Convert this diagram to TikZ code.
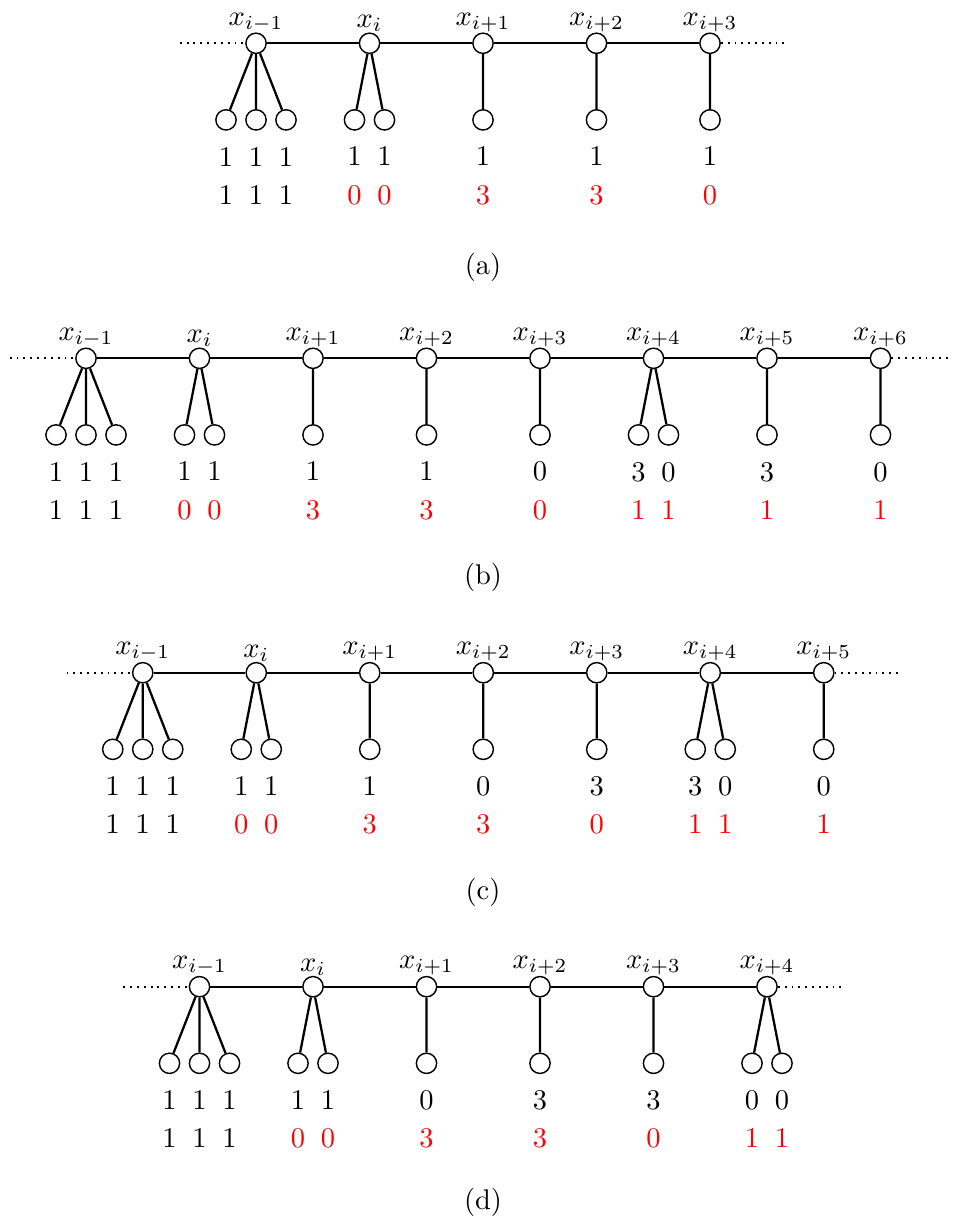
\documentclass[tikz,border=0pt]{standalone}
\usepackage{tikz}
\usetikzlibrary{positioning}
\definecolor{cntRed}{HTML}{FF0000}

\tikzset{
  vtx/.style={circle,draw,line width=0.5pt,fill=white,inner sep=0pt,minimum size=0.25cm,on grid},
  xlbl/.style={inner sep=0pt},
  vals/.style={align=center,inner sep=0pt,on grid,font=\fontsize{10}{13.5}\selectfont},
  subcap/.style={inner sep=0pt},
  spine/.style={thick},
  twig/.style={thick},
  trail/.style={line width=0.65pt,dash pattern=on 0.65pt off 1.75pt}
}

\begin{document}
\begin{tikzpicture}
  \useasboundingbox (0,0) rectangle (11.755,-15.123);

  % (a)
  \node[vtx] (a1) at (3.158,-0.534) {};
  \node[vtx,right=1.4cm of a1] (a2) {};
  \node[vtx,right=1.4cm of a2] (a3) {};
  \node[vtx,right=1.4cm of a3] (a4) {};
  \node[vtx,right=1.4cm of a4] (a5) {};
  \node[xlbl,above=0pt of a1] (a1x) {$x_{i-1}$};
  \node[xlbl,above=0pt of a2] (a2x) {$x_{i}$};
  \node[xlbl,above=0pt of a3] (a3x) {$x_{i+1}$};
  \node[xlbl,above=0pt of a4] (a4x) {$x_{i+2}$};
  \node[xlbl,above=0pt of a5] (a5x) {$x_{i+3}$};
  \coordinate[on grid,left=0.94cm of a1] (a0);
  \coordinate[on grid,right=0.94cm of a5] (a6);
  \draw[spine] (a1) -- (a2) -- (a3) -- (a4) -- (a5);
  \draw[trail] (a0) -- (a1) (a5) -- (a6);
  \node[vtx,below left=0.945cm and 0.37cm of a1] (a1-1) {};
  \node[vtx,below=0.945cm of a1] (a1-2) {};
  \node[vtx,below right=0.945cm and 0.37cm of a1] (a1-3) {};
  \node[vtx,below left=0.945cm and 0.185cm of a2] (a2-1) {};
  \node[vtx,below right=0.945cm and 0.185cm of a2] (a2-2) {};
  \node[vtx,below=0.945cm of a3] (a3-1) {};
  \node[vtx,below=0.945cm of a4] (a4-1) {};
  \node[vtx,below=0.945cm of a5] (a5-1) {};
  \draw[twig] (a1) -- (a1-1) (a1) -- (a1-2) (a1) -- (a1-3)
              (a2) -- (a2-1) (a2) -- (a2-2)
              (a3) -- (a3-1) (a4) -- (a4-1) (a5) -- (a5-1);
  \node[vals,below=0.69cm of a1-1] (a1-1v) {1\\1};
  \node[vals,below=0.69cm of a1-2] (a1-2v) {1\\1};
  \node[vals,below=0.69cm of a1-3] (a1-3v) {1\\1};
  \node[vals,below=0.69cm of a2-1] (a2-1v) {1\\\textcolor{cntRed}{0}};
  \node[vals,below=0.69cm of a2-2] (a2-2v) {1\\\textcolor{cntRed}{0}};
  \node[vals,below=0.69cm of a3-1] (a3-1v) {1\\\textcolor{cntRed}{3}};
  \node[vals,below=0.69cm of a4-1] (a4-1v) {1\\\textcolor{cntRed}{3}};
  \node[vals,below=0.69cm of a5-1] (a5-1v) {1\\\textcolor{cntRed}{0}};
  \node[subcap] (capa) at (5.958,-3.300) {(a)};

  % (b)
  \node[vtx] (b1) at (1.061,-4.420) {};
  \node[vtx,right=1.4cm of b1] (b2) {};
  \node[vtx,right=1.4cm of b2] (b3) {};
  \node[vtx,right=1.4cm of b3] (b4) {};
  \node[vtx,right=1.4cm of b4] (b5) {};
  \node[vtx,right=1.4cm of b5] (b6) {};
  \node[vtx,right=1.4cm of b6] (b7) {};
  \node[vtx,right=1.4cm of b7] (b8) {};
  \node[xlbl,above=0pt of b1] (b1x) {$x_{i-1}$};
  \node[xlbl,above=0pt of b2] (b2x) {$x_{i}$};
  \node[xlbl,above=0pt of b3] (b3x) {$x_{i+1}$};
  \node[xlbl,above=0pt of b4] (b4x) {$x_{i+2}$};
  \node[xlbl,above=0pt of b5] (b5x) {$x_{i+3}$};
  \node[xlbl,above=0pt of b6] (b6x) {$x_{i+4}$};
  \node[xlbl,above=0pt of b7] (b7x) {$x_{i+5}$};
  \node[xlbl,above=0pt of b8] (b8x) {$x_{i+6}$};
  \coordinate[on grid,left=0.94cm of b1] (b0);
  \coordinate[on grid,right=0.94cm of b8] (b9);
  \draw[spine] (b1) -- (b2) -- (b3) -- (b4) -- (b5) -- (b6) -- (b7) -- (b8);
  \draw[trail] (b0) -- (b1) (b8) -- (b9);
  \node[vtx,below left=0.945cm and 0.37cm of b1] (b1-1) {};
  \node[vtx,below=0.945cm of b1] (b1-2) {};
  \node[vtx,below right=0.945cm and 0.37cm of b1] (b1-3) {};
  \node[vtx,below left=0.945cm and 0.185cm of b2] (b2-1) {};
  \node[vtx,below right=0.945cm and 0.185cm of b2] (b2-2) {};
  \node[vtx,below=0.945cm of b3] (b3-1) {};
  \node[vtx,below=0.945cm of b4] (b4-1) {};
  \node[vtx,below=0.945cm of b5] (b5-1) {};
  \node[vtx,below left=0.945cm and 0.185cm of b6] (b6-1) {};
  \node[vtx,below right=0.945cm and 0.185cm of b6] (b6-2) {};
  \node[vtx,below=0.945cm of b7] (b7-1) {};
  \node[vtx,below=0.945cm of b8] (b8-1) {};
  \draw[twig] (b1) -- (b1-1) (b1) -- (b1-2) (b1) -- (b1-3)
              (b2) -- (b2-1) (b2) -- (b2-2)
              (b3) -- (b3-1) (b4) -- (b4-1) (b5) -- (b5-1)
              (b6) -- (b6-1) (b6) -- (b6-2)
              (b7) -- (b7-1) (b8) -- (b8-1);
  \node[vals,below=0.69cm of b1-1] (b1-1v) {1\\1};
  \node[vals,below=0.69cm of b1-2] (b1-2v) {1\\1};
  \node[vals,below=0.69cm of b1-3] (b1-3v) {1\\1};
  \node[vals,below=0.69cm of b2-1] (b2-1v) {1\\\textcolor{cntRed}{0}};
  \node[vals,below=0.69cm of b2-2] (b2-2v) {1\\\textcolor{cntRed}{0}};
  \node[vals,below=0.69cm of b3-1] (b3-1v) {1\\\textcolor{cntRed}{3}};
  \node[vals,below=0.69cm of b4-1] (b4-1v) {1\\\textcolor{cntRed}{3}};
  \node[vals,below=0.69cm of b5-1] (b5-1v) {0\\\textcolor{cntRed}{0}};
  \node[vals,below=0.69cm of b6-1] (b6-1v) {3\\\textcolor{cntRed}{1}};
  \node[vals,below=0.69cm of b6-2] (b6-2v) {0\\\textcolor{cntRed}{1}};
  \node[vals,below=0.69cm of b7-1] (b7-1v) {3\\\textcolor{cntRed}{1}};
  \node[vals,below=0.69cm of b8-1] (b8-1v) {0\\\textcolor{cntRed}{1}};
  \node[subcap] (capb) at (5.958,-7.124) {(b)};

  % (c)
  \node[vtx] (c1) at (1.761,-8.298) {};
  \node[vtx,right=1.4cm of c1] (c2) {};
  \node[vtx,right=1.4cm of c2] (c3) {};
  \node[vtx,right=1.4cm of c3] (c4) {};
  \node[vtx,right=1.4cm of c4] (c5) {};
  \node[vtx,right=1.4cm of c5] (c6) {};
  \node[vtx,right=1.4cm of c6] (c7) {};
  \node[xlbl,above=0pt of c1] (c1x) {$x_{i-1}$};
  \node[xlbl,above=0pt of c2] (c2x) {$x_{i}$};
  \node[xlbl,above=0pt of c3] (c3x) {$x_{i+1}$};
  \node[xlbl,above=0pt of c4] (c4x) {$x_{i+2}$};
  \node[xlbl,above=0pt of c5] (c5x) {$x_{i+3}$};
  \node[xlbl,above=0pt of c6] (c6x) {$x_{i+4}$};
  \node[xlbl,above=0pt of c7] (c7x) {$x_{i+5}$};
  \coordinate[on grid,left=0.94cm of c1] (c0);
  \coordinate[on grid,right=0.94cm of c7] (c8);
  \draw[spine] (c1) -- (c2) -- (c3) -- (c4) -- (c5) -- (c6) -- (c7);
  \draw[trail] (c0) -- (c1) (c7) -- (c8);
  \node[vtx,below left=0.945cm and 0.37cm of c1] (c1-1) {};
  \node[vtx,below=0.945cm of c1] (c1-2) {};
  \node[vtx,below right=0.945cm and 0.37cm of c1] (c1-3) {};
  \node[vtx,below left=0.945cm and 0.185cm of c2] (c2-1) {};
  \node[vtx,below right=0.945cm and 0.185cm of c2] (c2-2) {};
  \node[vtx,below=0.945cm of c3] (c3-1) {};
  \node[vtx,below=0.945cm of c4] (c4-1) {};
  \node[vtx,below=0.945cm of c5] (c5-1) {};
  \node[vtx,below left=0.945cm and 0.185cm of c6] (c6-1) {};
  \node[vtx,below right=0.945cm and 0.185cm of c6] (c6-2) {};
  \node[vtx,below=0.945cm of c7] (c7-1) {};
  \draw[twig] (c1) -- (c1-1) (c1) -- (c1-2) (c1) -- (c1-3)
              (c2) -- (c2-1) (c2) -- (c2-2)
              (c3) -- (c3-1) (c4) -- (c4-1) (c5) -- (c5-1)
              (c6) -- (c6-1) (c6) -- (c6-2) (c7) -- (c7-1);
  \node[vals,below=0.69cm of c1-1] (c1-1v) {1\\1};
  \node[vals,below=0.69cm of c1-2] (c1-2v) {1\\1};
  \node[vals,below=0.69cm of c1-3] (c1-3v) {1\\1};
  \node[vals,below=0.69cm of c2-1] (c2-1v) {1\\\textcolor{cntRed}{0}};
  \node[vals,below=0.69cm of c2-2] (c2-2v) {1\\\textcolor{cntRed}{0}};
  \node[vals,below=0.69cm of c3-1] (c3-1v) {1\\\textcolor{cntRed}{3}};
  \node[vals,below=0.69cm of c4-1] (c4-1v) {0\\\textcolor{cntRed}{3}};
  \node[vals,below=0.69cm of c5-1] (c5-1v) {3\\\textcolor{cntRed}{0}};
  \node[vals,below=0.69cm of c6-1] (c6-1v) {3\\\textcolor{cntRed}{1}};
  \node[vals,below=0.69cm of c6-2] (c6-2v) {0\\\textcolor{cntRed}{1}};
  \node[vals,below=0.69cm of c7-1] (c7-1v) {0\\\textcolor{cntRed}{1}};
  \node[subcap] (capc) at (5.958,-11.009) {(c)};

  % (d)
  \node[vtx] (d1) at (2.461,-12.171) {};
  \node[vtx,right=1.4cm of d1] (d2) {};
  \node[vtx,right=1.4cm of d2] (d3) {};
  \node[vtx,right=1.4cm of d3] (d4) {};
  \node[vtx,right=1.4cm of d4] (d5) {};
  \node[vtx,right=1.4cm of d5] (d6) {};
  \node[xlbl,above=0pt of d1] (d1x) {$x_{i-1}$};
  \node[xlbl,above=0pt of d2] (d2x) {$x_{i}$};
  \node[xlbl,above=0pt of d3] (d3x) {$x_{i+1}$};
  \node[xlbl,above=0pt of d4] (d4x) {$x_{i+2}$};
  \node[xlbl,above=0pt of d5] (d5x) {$x_{i+3}$};
  \node[xlbl,above=0pt of d6] (d6x) {$x_{i+4}$};
  \coordinate[on grid,left=0.94cm of d1] (d0);
  \coordinate[on grid,right=0.94cm of d6] (d7);
  \draw[spine] (d1) -- (d2) -- (d3) -- (d4) -- (d5) -- (d6);
  \draw[trail] (d0) -- (d1) (d6) -- (d7);
  \node[vtx,below left=0.945cm and 0.37cm of d1] (d1-1) {};
  \node[vtx,below=0.945cm of d1] (d1-2) {};
  \node[vtx,below right=0.945cm and 0.37cm of d1] (d1-3) {};
  \node[vtx,below left=0.945cm and 0.185cm of d2] (d2-1) {};
  \node[vtx,below right=0.945cm and 0.185cm of d2] (d2-2) {};
  \node[vtx,below=0.945cm of d3] (d3-1) {};
  \node[vtx,below=0.945cm of d4] (d4-1) {};
  \node[vtx,below=0.945cm of d5] (d5-1) {};
  \node[vtx,below left=0.945cm and 0.185cm of d6] (d6-1) {};
  \node[vtx,below right=0.945cm and 0.185cm of d6] (d6-2) {};
  \draw[twig] (d1) -- (d1-1) (d1) -- (d1-2) (d1) -- (d1-3)
              (d2) -- (d2-1) (d2) -- (d2-2)
              (d3) -- (d3-1) (d4) -- (d4-1) (d5) -- (d5-1)
              (d6) -- (d6-1) (d6) -- (d6-2);
  \node[vals,below=0.69cm of d1-1] (d1-1v) {1\\1};
  \node[vals,below=0.69cm of d1-2] (d1-2v) {1\\1};
  \node[vals,below=0.69cm of d1-3] (d1-3v) {1\\1};
  \node[vals,below=0.69cm of d2-1] (d2-1v) {1\\\textcolor{cntRed}{0}};
  \node[vals,below=0.69cm of d2-2] (d2-2v) {1\\\textcolor{cntRed}{0}};
  \node[vals,below=0.69cm of d3-1] (d3-1v) {0\\\textcolor{cntRed}{3}};
  \node[vals,below=0.69cm of d4-1] (d4-1v) {3\\\textcolor{cntRed}{3}};
  \node[vals,below=0.69cm of d5-1] (d5-1v) {3\\\textcolor{cntRed}{0}};
  \node[vals,below=0.69cm of d6-1] (d6-1v) {0\\\textcolor{cntRed}{1}};
  \node[vals,below=0.69cm of d6-2] (d6-2v) {0\\\textcolor{cntRed}{1}};
  \node[subcap] (capd) at (5.958,-14.833) {(d)};
\end{tikzpicture}
\end{document}
